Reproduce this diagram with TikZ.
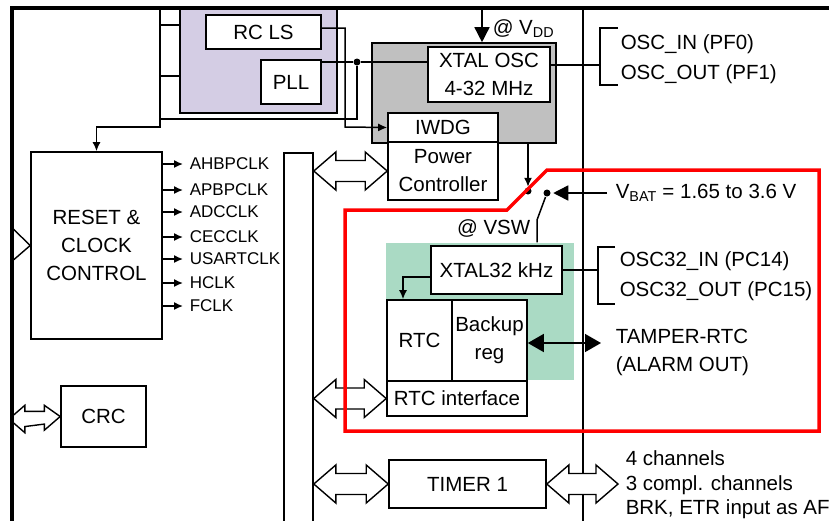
\documentclass[tikz,border=0pt]{standalone}
\usepackage{fontspec}
\setmainfont{Liberation Sans}
\usetikzlibrary{arrows.meta,calc}
\definecolor{lsviolet}{RGB}{212,205,228}
\definecolor{oscgray}{RGB}{192,192,192}
\definecolor{rtcgreen}{RGB}{170,218,196}
\newcommand{\blockarrow}[3][1]{%
	\draw[blockarrow] let \p1=(#2), \p2=(#3) in
		(\p1) -- ++(22pt*#1,19pt*#1) -- ++(0pt,-8.5pt*#1) -- (\x2-22pt*#1,\y1+10.5pt*#1) -- ++(0pt,8.5pt*#1) -- (\p2)
		-- ++(-22pt*#1,-19pt*#1) -- ++(0pt,8.5pt*#1) -- (\x1+22pt*#1,\y1-10.5pt*#1) -- ++(0pt,-8.5pt*#1) -- cycle;}

\begin{document}
\begin{tikzpicture}[x=1pt,y=-1pt,line width=1.5pt,
	every node/.style={font=\fontsize{20.5}{28}\selectfont,inner sep=0pt},
	box/.style={draw,fill=white,line width=1.6pt,align=center},
	tip/.style={-{Latex[length=9pt,width=8pt]}},
	bigtip/.style={-{Triangle[length=15pt,width=15pt]}},
	blockarrow/.style={draw,fill=white,line width=1.4pt,line join=miter},
	clk/.style={anchor=west,font=\fontsize{17}{20}\selectfont}]
	\useasboundingbox (0,0) rectangle (829,520);
	\node[box,fill=lsviolet,minimum width=157pt,minimum height=105pt] (lsbox) at (258.5,60.5) {};
	\node[box,minimum width=115pt,minimum height=34pt] (rcls) at (263.5,32) {RC LS};
	\node[box,minimum width=60pt,minimum height=44pt] (pll) at (291,82) {PLL};
	\node[box,fill=oscgray,minimum width=184pt,minimum height=100pt] (osc) at (464,93) {};
	\node[box,minimum width=122pt,minimum height=55pt] (xosc) at (489,74.5) {XTAL OSC\\4-32 MHz};
	\node[box,minimum width=110pt,minimum height=29pt] (iwdg) at (443,127.5) {IWDG};
	\node[box,minimum width=110pt,minimum height=58pt] (pwr) at (443,171) {Power\\Controller};
	\node[box,minimum width=131pt,minimum height=187pt] (reset) at (96.5,245.5) {RESET \&\\CLOCK\\CONTROL};
	\node[box,minimum width=29pt,minimum height=380pt,anchor=north] (bus) at (298.5,152) {};
	\node[box,minimum width=85pt,minimum height=61pt] (crc) at (103.5,416.5) {CRC};
	\node[fill=rtcgreen,minimum width=188pt,minimum height=137pt] (rtcarea) at (480,311.5) {};
	\node[box,minimum width=131pt,minimum height=48pt] (xlse) at (496.5,270) {XTAL32 kHz};
	\node[box,minimum width=65pt,minimum height=81pt] (rtc) at (419.5,340.5) {RTC};
	\node[box,minimum width=75pt,minimum height=81pt] (bkp) at (489.5,340.5) {Backup\\reg};
	\node[box,minimum width=140pt,minimum height=35pt] (rtcif) at (457,398.5) {RTC interface};
	\node[box,minimum width=157pt,minimum height=48pt] (tim) at (467.5,484) {TIMER 1};
	\draw (583,8) -- (583,530);
	\coordinate (trunk) at (160,8);
	\coordinate (vdd) at (482,8);
	\coordinate (vbat) at (607,193);
	\coordinate (tamper) at (601,343);
	\coordinate (timout) at (618,484);
	\coordinate (crcin) at (9,419);
	\coordinate (rstin) at (-60,243);
	\draw (trunk |- 0,25) -- (lsbox.west |- 0,25);
	\draw (trunk |- 0,76) -- (lsbox.west |- 0,76);
	\draw[tip] (trunk) -- (160,127) -| (reset.north);
	\node[circle,fill,minimum size=7pt] (jn) at (357,62) {};
	\draw (pll.east |- jn) -- (jn) -- (xosc.west |- jn);
	\draw (jn) |- (trunk |- 0,119);
	\draw[tip] (rcls.east |- 0,28) -| (345,127) -- (iwdg.west);
	\draw[bigtip] (vdd) -- (vdd |- osc.north);
	\node[anchor=west] (vddlbl) at (492,29) {@ V\textsubscript{DD}};
	\draw (xosc.east |- 0,65) -- (600,65);
	\draw (618,28) -| (600,85) -- (618,85);
	\node[anchor=west,align=left,font=\fontsize{20.5}{30}\selectfont] (osclbl) at (620,59) {OSC\_IN (PF0)\\OSC\_OUT (PF1)};
	\node[circle,fill,minimum size=7pt] (swa) at (528,191) {};
	\node[circle,fill,minimum size=7pt] (swb) at (547,193) {};
	\draw[tip] (osc.south -| swa) -- (swa.north);
	\draw (swb) -- (537,220) -- (rtcarea.north -| 537,0);
	\draw[bigtip,shorten >=2pt] (vbat) -- (swb.east);
	\node[anchor=west] (vbatlbl) at (615,193) {V\textsubscript{BAT} = 1.65 to 3.6 V};
	\node[anchor=east] (vswlbl) at (531,228) {@ VSW};
	\draw (xlse.east) -- (598,270);
	\draw (615,247) -| (598,304) -- (615,304);
	\node[anchor=west,align=left,font=\fontsize{20.5}{30}\selectfont] (lselbl) at (619,276) {OSC32\_IN (PC14)\\OSC32\_OUT (PC15)};
	\draw[tip] (xlse.west |- 0,277) -| (403,0 |- rtc.north);
	\draw[{Triangle[length=16pt,width=18pt]}-{Triangle[length=16pt,width=18pt]}] (bkp.east |- tamper) -- (tamper);
	\node[anchor=west,align=left] (tamperlbl) at (615,352) {TAMPER-RTC\\(ALARM OUT)};
	\foreach \y/\name in {164/AHBPCLK,190/APBPCLK,212/ADCCLK,237/CECCLK,259/USARTCLK,283/HCLK,306/FCLK}{
		\node[clk] (\name) at (189,\y) {\name};
		\draw[tip,shorten >=6pt] (reset.east |- \name.west) -- (\name.west);
	}
	\blockarrow{bus.east |- pwr.west}{pwr.west}
	\blockarrow{bus.east |- rtcif.west}{rtcif.west}
	\blockarrow{bus.east |- tim.west}{tim.west}
	\blockarrow{tim.east}{timout}
	\begin{scope}
		\clip (12,0) rectangle (829,520);
		\blockarrow[0.72]{crcin}{crc.west}
		\blockarrow{rstin}{reset.west}
	\end{scope}
	\node[anchor=west,align=left,font=\fontsize{20.5}{24.5}\selectfont] (timlbl) at (625,485) {4 channels\\3 compl. channels\\BRK, ETR input as AF};
	\draw[red,line width=3.5pt] (345,210) -- (507,210) -- (547,170) -- (819,170) -- (819,431) -- (345,431) -- cycle;
	\draw[line width=3.5pt] (12,530) -- (12,8) -- (835,8);
\end{tikzpicture}
\end{document}
